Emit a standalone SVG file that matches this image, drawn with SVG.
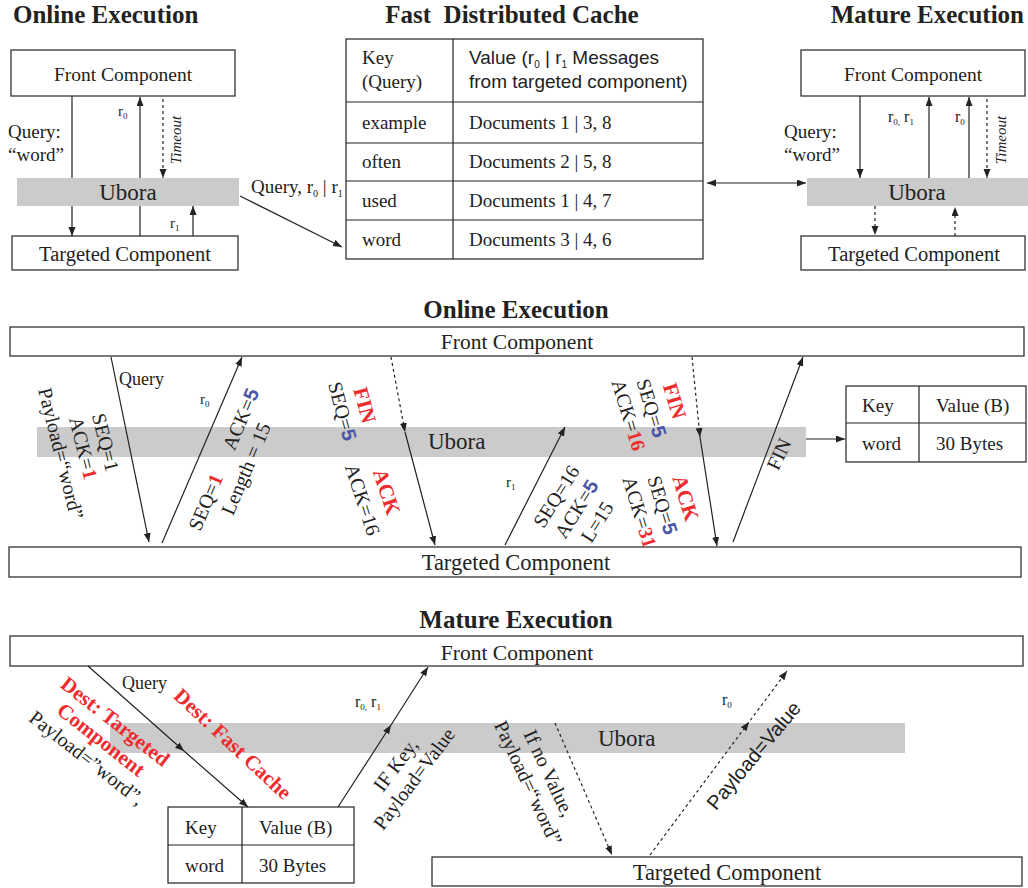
<svg xmlns="http://www.w3.org/2000/svg" width="1028" height="888" viewBox="0 0 1028 888">
<style>
.t{font-family:"Liberation Serif","Times New Roman",serif;fill:#222}
.s{font-family:"Liberation Sans",Arial,sans-serif;fill:#222}
.title{font-family:"Liberation Serif","Times New Roman",serif;font-weight:bold;font-size:25px;fill:#222}
.box{fill:#fff;stroke:#333;stroke-width:1.3}
.bar{fill:#cbcbcb}
.ln{stroke:#222;stroke-width:1.2;fill:none}
.dash{stroke-dasharray:3 3}
.red{fill:#ee2b2e;font-weight:bold}
.blue{fill:#4a55a5;font-weight:bold;font-family:"Liberation Sans",Arial,sans-serif}
.rl{font-size:20px}
</style>
<defs>
<marker id="ah" markerWidth="10" markerHeight="8" refX="9" refY="3.5" orient="auto" markerUnits="userSpaceOnUse"><path d="M0,0 L9,3.5 L0,7 z" fill="#222"/></marker>
<marker id="ah2" markerWidth="10" markerHeight="8" refX="9" refY="3.5" orient="auto-start-reverse" markerUnits="userSpaceOnUse"><path d="M0,0 L9,3.5 L0,7 z" fill="#222"/></marker>
</defs>
<rect x="0" y="0" width="1028" height="888" fill="#fff"/>

<!-- Titles -->
<g id="titles">
<text class="title" x="13" y="23">Online Execution</text>
<text class="title" x="512" y="23" text-anchor="middle">Fast&#160; Distributed Cache</text>
<text class="title" x="1024" y="23" text-anchor="end">Mature Execution</text>
<text class="title" x="516" y="318" text-anchor="middle">Online Execution</text>
<text class="title" x="516" y="628" text-anchor="middle">Mature Execution</text>
</g>

<!-- Top-left: online -->
<g id="tl-front"><rect class="box" x="11" y="50" width="224" height="46"/><text class="t" x="123" y="81" font-size="19.5" text-anchor="middle">Front Component</text></g>
<g id="tl-ubora"><rect class="bar" x="17" y="178" width="222" height="28"/><text class="t" x="128" y="200" font-size="23" text-anchor="middle">Ubora</text></g>
<g id="tl-target"><rect class="box" x="12" y="236" width="226" height="34"/><text class="t" x="125" y="261" font-size="20.5" text-anchor="middle">Targeted Component</text></g>

<!-- Cache table -->
<g id="cache">
<rect class="box" x="346" y="39" width="357" height="220"/>
<path class="ln" d="M453,39 V259 M346,102 H703 M346,143 H703 M346,181 H703 M346,220 H703" stroke="#333"/>
<text class="t" font-size="19" x="362" y="64">Key</text>
<text class="t" font-size="19" x="362" y="88">(Query)</text>
<text class="s" font-size="19" x="469" y="64">Value (r<tspan font-size="10" dy="4">0</tspan><tspan dy="-4"> | r</tspan><tspan font-size="10" dy="4">1</tspan><tspan dy="-4"> Messages</tspan></text>
<text class="s" font-size="19" x="469" y="88">from targeted component)</text>
<text class="t" font-size="19" x="362" y="129">example</text>
<text class="t" font-size="19" x="469" y="129">Documents 1 | 3, 8</text>
<text class="t" font-size="19" x="362" y="168">often</text>
<text class="t" font-size="19" x="469" y="168">Documents 2 | 5, 8</text>
<text class="t" font-size="19" x="362" y="207">used</text>
<text class="t" font-size="19" x="469" y="207">Documents 1 | 4, 7</text>
<text class="t" font-size="19" x="362" y="246">word</text>
<text class="t" font-size="19" x="469" y="246">Documents 3 | 4, 6</text>
</g>

<!-- Top-right: mature -->
<g id="tr-front"><rect class="box" x="801" y="50" width="224" height="46"/><text class="t" x="913" y="81" font-size="19.5" text-anchor="middle">Front Component</text></g>
<g id="tr-ubora"><rect class="bar" x="807" y="178" width="221" height="28"/><text class="t" x="917" y="200" font-size="23" text-anchor="middle">Ubora</text></g>
<g id="tr-target"><rect class="box" x="801" y="236" width="224" height="34"/><text class="t" x="914" y="261" font-size="20.5" text-anchor="middle">Targeted Component</text></g>

<!-- Middle: online execution -->
<g id="m-front"><rect class="box" x="10" y="327" width="1014" height="29"/><text class="t" x="517" y="349" font-size="21.5" text-anchor="middle">Front Component</text></g>
<g id="m-ubora"><rect class="bar" x="37" y="427" width="769" height="30"/><text class="t" x="428" y="449" font-size="23">Ubora</text></g>
<g id="m-target"><rect class="box" x="9" y="547" width="1012" height="30"/><text class="t" x="516" y="570" font-size="22.5" text-anchor="middle">Targeted Component</text></g>
<g id="m-table">
<rect class="box" x="846" y="386" width="180" height="76"/>
<path class="ln" d="M919,386 V462 M846,423 H1026" stroke="#333"/>
<text class="t" font-size="19" x="862" y="412">Key</text>
<text class="t" font-size="19" x="936" y="412">Value (B)</text>
<text class="t" font-size="19" x="862" y="450">word</text>
<text class="t" font-size="19" x="936" y="450">30 Bytes</text>
</g>

<!-- Bottom: mature execution -->
<g id="b-front"><rect class="box" x="10" y="636" width="1013" height="30"/><text class="t" x="517" y="660" font-size="21.5" text-anchor="middle">Front Component</text></g>
<g id="b-ubora"><rect class="bar" x="110" y="723" width="795" height="30"/><text class="t" x="598" y="746" font-size="23">Ubora</text></g>
<g id="b-table">
<rect class="box" x="168" y="807" width="186" height="76"/>
<path class="ln" d="M242,807 V883 M168,845 H354" stroke="#333"/>
<text class="t" font-size="19" x="185" y="834">Key</text>
<text class="t" font-size="19" x="259" y="834">Value (B)</text>
<text class="t" font-size="19" x="185" y="872">word</text>
<text class="t" font-size="19" x="259" y="872">30 Bytes</text>
</g>
<g id="b-target"><rect class="box" x="432" y="857" width="590" height="29"/><text class="t" x="727" y="880" font-size="22.5" text-anchor="middle">Targeted Component</text></g>

<!-- Connectors -->
<g id="connectors">
<line class="ln" x1="72" y1="96" x2="72" y2="178"/>
<line class="ln" x1="72" y1="206" x2="72" y2="236" marker-end="url(#ah)"/>
<line class="ln" x1="140" y1="236" x2="140" y2="206"/>
<line class="ln" x1="140" y1="178" x2="140" y2="97" marker-end="url(#ah)"/>
<line class="ln dash" x1="163" y1="99" x2="163" y2="178" marker-end="url(#ah)"/>
<line class="ln" x1="193" y1="236" x2="193" y2="206" marker-end="url(#ah)"/>
<line class="ln" x1="240" y1="196" x2="342" y2="247" marker-end="url(#ah)"/>
<line class="ln" x1="707" y1="183" x2="806" y2="183" marker-start="url(#ah2)" marker-end="url(#ah2)"/>
<line class="ln" x1="860" y1="96" x2="860" y2="178" marker-end="url(#ah)"/>
<line class="ln" x1="929" y1="178" x2="929" y2="97" marker-end="url(#ah)"/>
<line class="ln" x1="969" y1="178" x2="969" y2="97" marker-end="url(#ah)"/>
<line class="ln dash" x1="987" y1="99" x2="987" y2="178" marker-end="url(#ah)"/>
<line class="ln dash" x1="875" y1="206" x2="875" y2="235" marker-end="url(#ah)"/>
<line class="ln dash" x1="955" y1="236" x2="955" y2="207" marker-end="url(#ah)"/>
<line class="ln" x1="111" y1="357" x2="149" y2="542" marker-end="url(#ah)"/>
<line class="ln" x1="162" y1="543" x2="242" y2="357" marker-end="url(#ah)"/>
<line class="ln dash" x1="391" y1="357" x2="405" y2="432" marker-end="url(#ah)"/>
<line class="ln" x1="405" y1="432" x2="435" y2="545" marker-end="url(#ah)"/>
<line class="ln" x1="505" y1="545" x2="565" y2="427" marker-end="url(#ah)"/>
<line class="ln dash" x1="692" y1="357" x2="700" y2="437" marker-end="url(#ah)"/>
<line class="ln" x1="700" y1="437" x2="717" y2="546" marker-end="url(#ah)"/>
<line class="ln" x1="733" y1="542" x2="803" y2="357" marker-end="url(#ah)"/>
<line class="ln" x1="806" y1="439" x2="845" y2="439" marker-end="url(#ah)"/>
<polyline class="ln" points="88,666 184,751 248,807" marker-mid="url(#ah)" marker-end="url(#ah)"/>
<polyline class="ln" points="338,807 391,725 428,667" marker-mid="url(#ah)" marker-end="url(#ah)"/>
<line class="ln dash" x1="555" y1="723" x2="612" y2="855" marker-end="url(#ah)"/>
<polyline class="ln dash" points="650,855 749,722 787,671" marker-mid="url(#ah)" marker-end="url(#ah)"/>
</g>

<!-- Labels -->
<g id="labels">
<text class="t" font-size="19" x="8" y="138">Query:</text>
<text class="t" font-size="19" x="8" y="161">“word”</text>
<text class="t" font-size="15" x="118" y="116">r<tspan font-size="9" dy="3">0</tspan></text>
<g transform="translate(181,140) rotate(-90)"><text class="t" font-size="15" font-style="italic" text-anchor="middle">Timeout</text></g>
<text class="t" font-size="15" x="170" y="228">r<tspan font-size="9" dy="3">1</tspan></text>
<text class="t" font-size="19" x="251" y="193">Query, r<tspan font-size="10" dy="4">0</tspan><tspan dy="-4"> | r</tspan><tspan font-size="10" dy="4">1</tspan></text>

<text class="t" font-size="19" x="784" y="138">Query:</text>
<text class="t" font-size="19" x="784" y="161">“word”</text>
<text class="t" font-size="16" x="888" y="122">r<tspan font-size="9" dy="3">0,</tspan><tspan dy="-3"> r</tspan><tspan font-size="9" dy="3">1</tspan></text>
<text class="t" font-size="16" x="955" y="122">r<tspan font-size="9" dy="3">0</tspan></text>
<g transform="translate(1006,140) rotate(-90)"><text class="t" font-size="15" font-style="italic" text-anchor="middle">Timeout</text></g>

<text class="t" font-size="18" x="119" y="385">Query</text>
<text class="t" font-size="15" x="200" y="404">r<tspan font-size="9" dy="3">0</tspan></text>
<text class="t" font-size="15" x="506" y="487">r<tspan font-size="9" dy="3">1</tspan></text>

<g transform="translate(99,444) rotate(76)"><text class="t rl" text-anchor="middle"><tspan x="0" y="0">SEQ=1</tspan><tspan x="0" y="23">ACK=<tspan class="red">1</tspan></tspan><tspan x="0" y="46">Payload=“word”</tspan></text></g>
<g transform="translate(230,462) rotate(-67)"><text class="t rl" x="-76" y="0">SEQ=<tspan class="red">1</tspan></text><text class="t rl" x="76" y="0" text-anchor="end">ACK=<tspan class="blue">5</tspan></text><text class="t rl" x="0" y="24" text-anchor="middle">Length = 15</text></g>
<g transform="translate(358,407) rotate(75)"><text class="t rl" text-anchor="middle"><tspan x="0" y="0" class="red" font-size="21">FIN</tspan><tspan x="0" y="23">SEQ=<tspan class="blue">5</tspan></tspan></text></g>
<g transform="translate(380,494) rotate(72)"><text class="t rl" text-anchor="middle"><tspan x="0" y="0" class="red" font-size="21">ACK</tspan><tspan x="0" y="25">ACK=16</tspan></text></g>
<g transform="translate(668,403) rotate(73)"><text class="t rl" text-anchor="middle"><tspan x="0" y="0" class="red" font-size="21">FIN</tspan><tspan x="0" y="24">SEQ=<tspan class="blue">5</tspan></tspan><tspan x="0" y="48">ACK=<tspan class="red">16</tspan></tspan></text></g>
<g transform="translate(562,500) rotate(-58)"><text class="t rl" text-anchor="middle"><tspan x="0" y="0">SEQ=16</tspan><tspan x="0" y="24">ACK=<tspan class="blue">5</tspan></tspan><tspan x="0" y="48">L=15</tspan></text></g>
<g transform="translate(679,500) rotate(73)"><text class="t rl" text-anchor="middle"><tspan x="0" y="0" class="red" font-size="21">ACK</tspan><tspan x="0" y="24">SEQ=<tspan class="blue">5</tspan></tspan><tspan x="0" y="48">ACK=<tspan class="red">31</tspan></tspan></text></g>
<g transform="translate(785,457) rotate(-65)"><text class="t rl" text-anchor="middle">FIN</text></g>

<text class="t" font-size="18" x="122" y="689">Query</text>
<text class="t" font-size="16" x="355" y="707">r<tspan font-size="9" dy="3">0,</tspan><tspan dy="-3"> r</tspan><tspan font-size="9" dy="3">1</tspan></text>
<text class="t" font-size="16" x="722" y="705">r<tspan font-size="9" dy="3">0</tspan></text>
<g transform="translate(111,727) rotate(38)"><text class="t" text-anchor="middle"><tspan x="0" y="0" class="red" font-size="21">Dest: Targeted</tspan><tspan x="0" y="23" class="red" font-size="21">Component</tspan><tspan x="0" y="46" font-size="20">Payload=”word”,</tspan></text></g>
<g transform="translate(228,749) rotate(43)"><text class="t red" font-size="21" text-anchor="middle">Dest: Fast Cache</text></g>
<g transform="translate(401,769) rotate(-53)"><text class="t rl" text-anchor="middle"><tspan x="0" y="0">IF Key,</tspan><tspan x="0" y="23">Payload=Value</tspan></text></g>
<g transform="translate(543,776) rotate(65)"><text class="t rl" text-anchor="middle"><tspan x="0" y="0">If no Value,</tspan><tspan x="0" y="23">Payload=“word”</tspan></text></g>
<g transform="translate(759,760) rotate(-50)"><text class="s" font-size="20" text-anchor="middle">Payload=Value</text></g>
</g>
</svg>
